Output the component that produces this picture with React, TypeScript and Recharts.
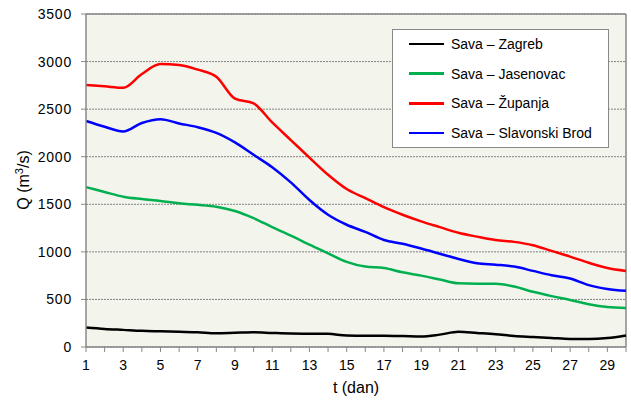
import React from "react";
import { LineChart, Line, XAxis, YAxis, CartesianGrid, ReferenceLine } from "recharts";

const days = [1,2,3,4,5,6,7,8,9,10,11,12,13,14,15,16,17,18,19,20,21,22,23,24,25,26,27,28,29,30];
const zagreb = [205,190,180,170,165,160,155,145,150,155,148,142,140,138,120,118,118,115,110,130,160,148,135,115,105,95,85,85,95,122];
const jasenovac = [1680,1630,1580,1555,1535,1510,1495,1475,1430,1355,1260,1170,1075,985,895,845,830,785,750,710,670,665,665,635,580,535,495,450,420,410];
const zupanja = [2755,2740,2725,2870,2975,2965,2915,2840,2610,2560,2360,2175,1990,1810,1660,1565,1470,1390,1320,1260,1200,1160,1125,1105,1070,1010,950,885,830,800];
const slavonski = [2375,2315,2265,2355,2395,2350,2310,2250,2150,2020,1890,1730,1545,1390,1285,1210,1125,1085,1035,980,925,880,865,845,800,755,720,650,610,590];
const yTicks = [0,500,1000,1500,2000,2500,3000,3500];
const seriesNames = ["Sava – Zagreb","Sava – Jasenovac","Sava – Županja","Sava – Slavonski Brod"];
const seriesColors = ["#000000","#00B050","#FF0000","#0000FF"];

const data = days.map((d, i) => ({ day: d, s0: zagreb[i], s1: jasenovac[i], s2: zupanja[i], s3: slavonski[i] }));

const FONT = "'Liberation Sans', Arial, sans-serif";

const XTick = (props: any) => {
  const { x, y, payload } = props;
  if (payload.value % 2 === 0) return null;
  return (
    <text x={x} y={y + 16} textAnchor="middle" fontSize={14} fill="#000" fontFamily={FONT}>{payload.value}</text>
  );
};

const YTick = (props: any) => {
  const { x, y, payload } = props;
  return (
    <text x={x} y={y + 5} textAnchor="end" fontSize={14} letterSpacing={0.8} fill="#000" fontFamily={FONT}>{payload.value}</text>
  );
};

const YLabel = () => {
  const cx = 29;
  const cy = 180;
  return (
    <text x={cx} y={cy} transform={`rotate(-90 ${cx} ${cy})`} textAnchor="middle" fontSize={16} fill="#000" fontFamily={FONT}>
      Q (m<tspan dy={-6} fontSize={11}>3</tspan><tspan dy={6}>/s)</tspan>
    </text>
  );
};

const LegendBox = () => (
  <div style={{ position: "absolute", left: 392, top: 29, width: 217, height: 119, background: "#fff", border: "1px solid #888", boxSizing: "border-box", fontFamily: FONT, fontSize: 14, color: "#000" }}>
    {seriesNames.map((n, i) => (
      <div key={n} style={{ position: "absolute", left: 0, top: 3 + i * 29.7, height: 22, display: "flex", alignItems: "center", whiteSpace: "nowrap" }}>
        <div style={{ width: 35, height: 2.5, background: seriesColors[i], marginLeft: 16, marginRight: 7 }} />
        <span>{n}</span>
      </div>
    ))}
  </div>
);

export default function App() {
  return (
    <div style={{ position: "absolute", left: 0, top: 0, width: 631, height: 407, background: "#fff" }}>
      <LineChart width={631} height={407} data={data} margin={{ top: 14, right: 5, left: 0, bottom: 0 }}>
        <CartesianGrid vertical={false} fill="#F3F5EC" stroke="#808080" strokeDasharray="2 1" />
        <XAxis
          dataKey="day"
          type="number"
          domain={[1, 30]}
          ticks={days}
          interval={0}
          height={60}
          tick={<XTick />}
          tickSize={5}
          stroke="#888"
          axisLine={{ stroke: "#888", strokeWidth: 1.5 }}
          label={{ value: "t (dan)", position: "insideBottom", offset: 14, fontSize: 16, fill: "#000", fontFamily: FONT }}
        />
        <YAxis
          width={86}
          domain={[0, 3500]}
          ticks={yTicks}
          interval={0}
          tickSize={5}
          tickMargin={9}
          stroke="#888"
          axisLine={{ stroke: "#888", strokeWidth: 1.5 }}
          tick={<YTick />}
          label={<YLabel />}
        />
        <ReferenceLine y={3500} stroke="#888" strokeWidth={1.5} />
        <ReferenceLine x={30} stroke="#888" strokeWidth={1.5} />
        <Line type="monotone" dataKey="s0" name={seriesNames[0]} stroke={seriesColors[0]} strokeWidth={2.5} dot={false} isAnimationActive={false} />
        <Line type="monotone" dataKey="s1" name={seriesNames[1]} stroke={seriesColors[1]} strokeWidth={2.5} dot={false} isAnimationActive={false} />
        <Line type="monotone" dataKey="s2" name={seriesNames[2]} stroke={seriesColors[2]} strokeWidth={2.5} dot={false} isAnimationActive={false} />
        <Line type="monotone" dataKey="s3" name={seriesNames[3]} stroke={seriesColors[3]} strokeWidth={2.5} dot={false} isAnimationActive={false} />
      </LineChart>
      <LegendBox />
    </div>
  );
}
